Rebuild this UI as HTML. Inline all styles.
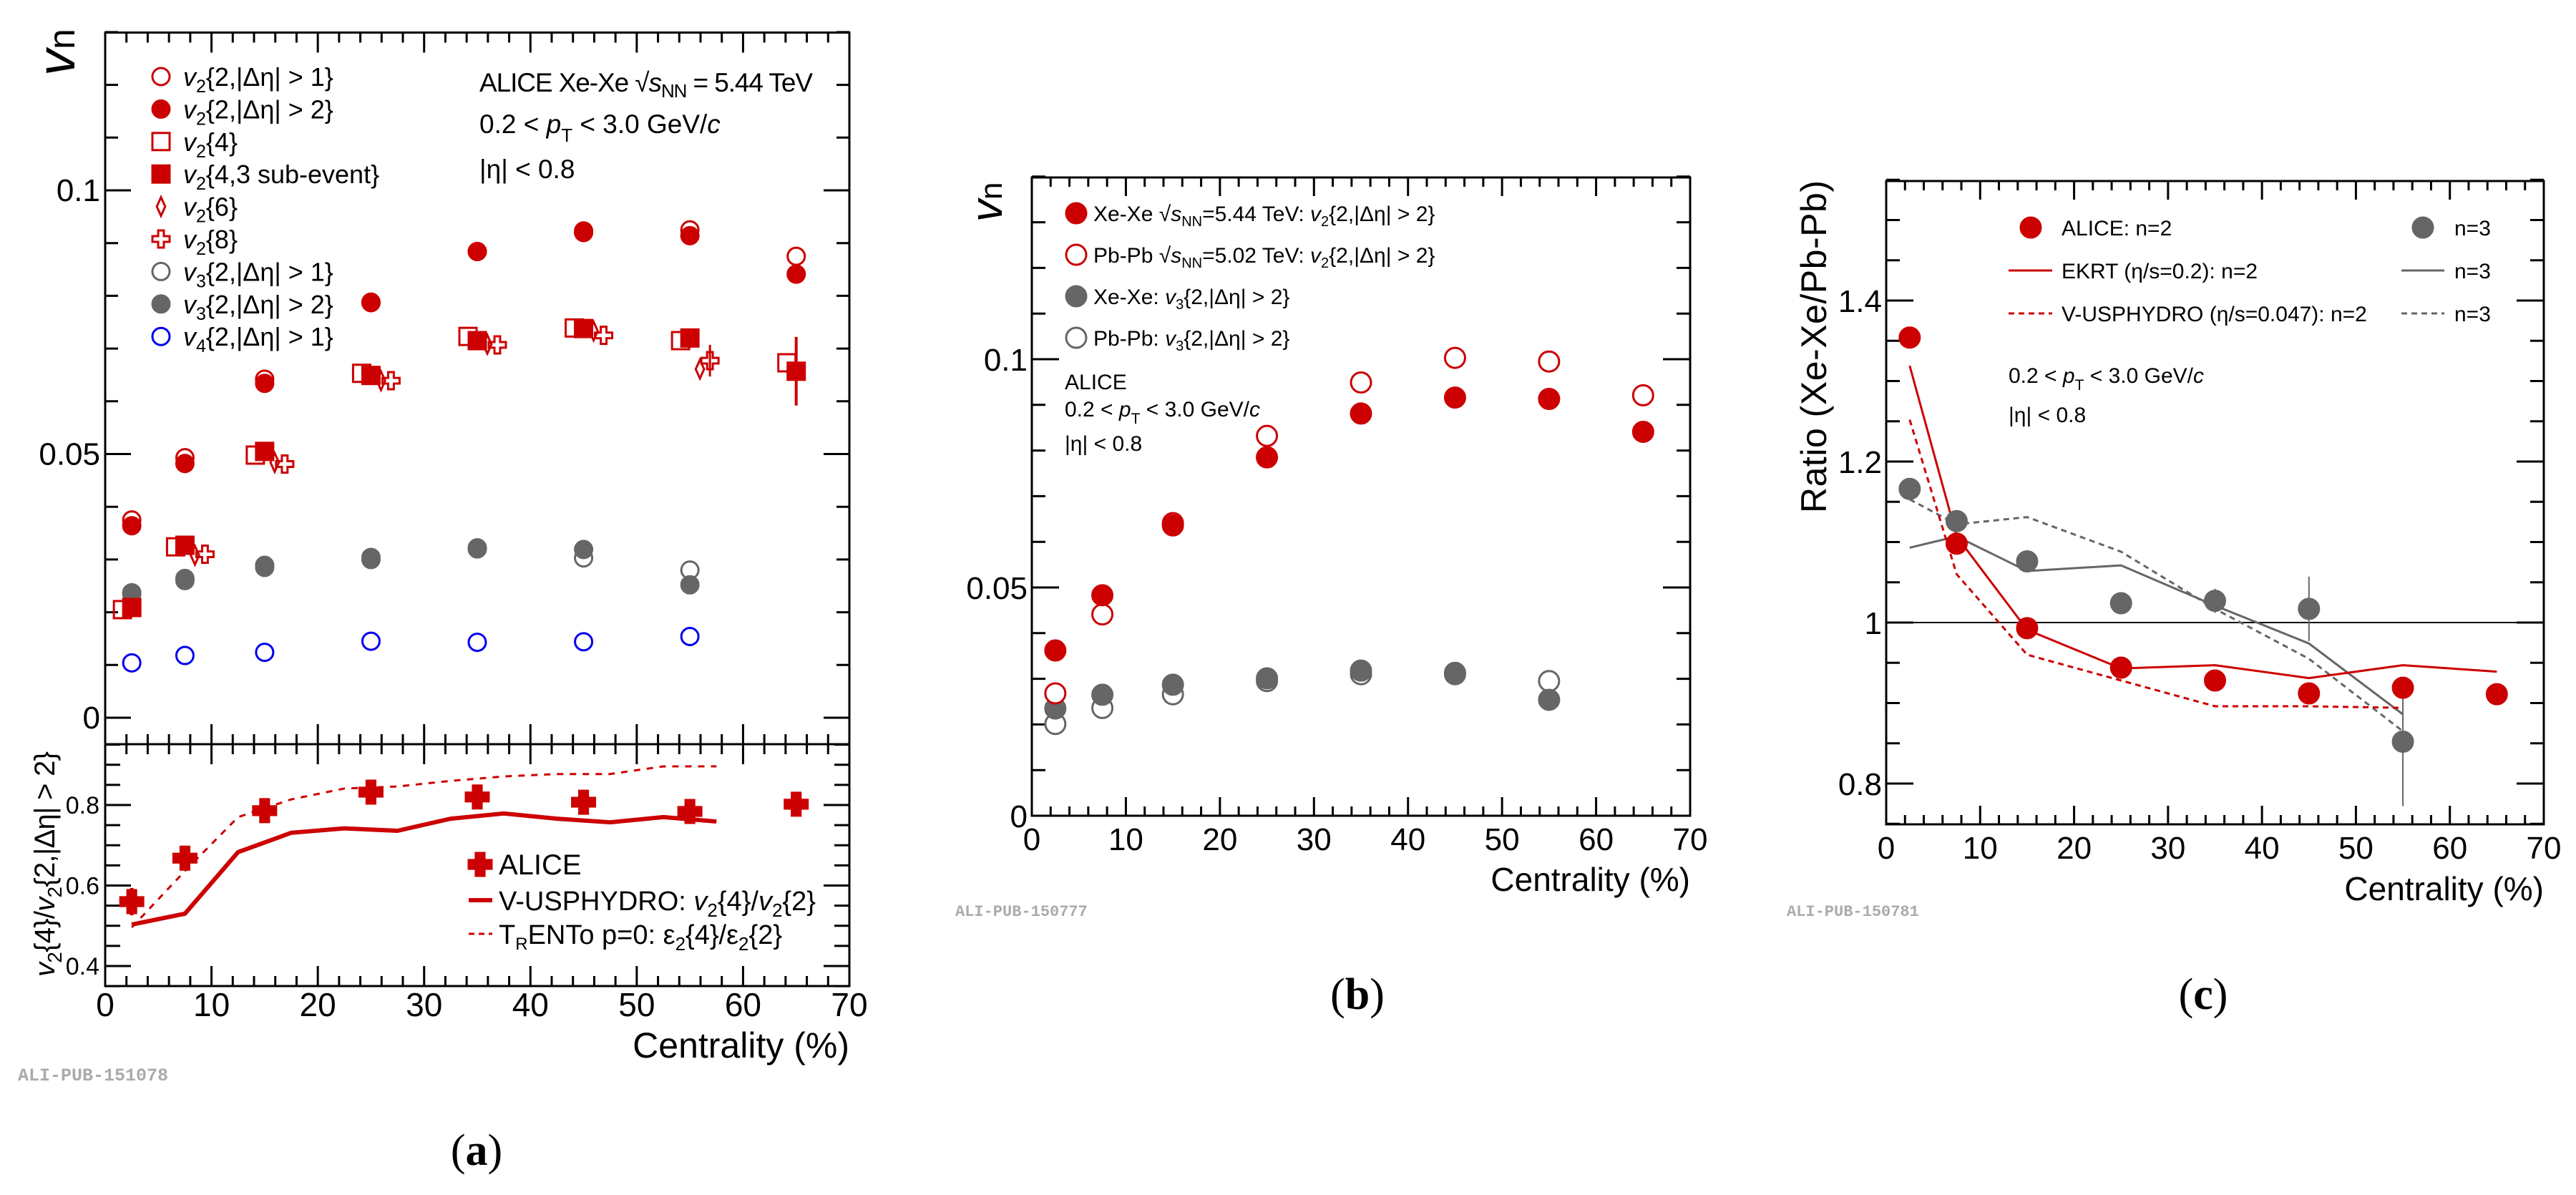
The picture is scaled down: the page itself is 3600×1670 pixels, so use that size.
<!DOCTYPE html>
<html><head><meta charset="utf-8"><style>
html,body{margin:0;padding:0;background:#fff;}
svg{display:block;font-family:"Liberation Sans",sans-serif;}
</style></head><body>
<svg id="fig" width="3600" height="1670" viewBox="0 0 3600 1670" xmlns="http://www.w3.org/2000/svg">
<rect x="0" y="0" width="3600" height="1670" fill="#fff"/>
<g id="pa"></g>
<g id="pb"></g>
<g id="pc"></g>

<!-- Panel a static text -->
<text x="0" y="0" transform="translate(104,106) rotate(-90)" font-size="74" font-style="italic">v<tspan font-size="52" font-style="normal" dy="0">n</tspan></text>
<text x="0" y="0" transform="translate(76,1365) rotate(-90)" font-size="40" textLength="315"><tspan font-style="italic">v</tspan><tspan font-size="28" dy="10">2</tspan><tspan dy="-10">{4}/</tspan><tspan font-style="italic">v</tspan><tspan font-size="28" dy="10">2</tspan><tspan dy="-10">{2,|Δη| &gt; 2}</tspan></text>
<text x="1187" y="1478" font-size="50" text-anchor="end">Centrality (%)</text>
<text x="25" y="1510" font-size="25" fill="#aaa" font-family="Liberation Mono, monospace" font-weight="bold">ALI-PUB-151078</text>
<text x="666" y="1628" font-size="62" text-anchor="middle" font-family="Liberation Serif, serif">(<tspan font-weight="bold">a</tspan>)</text>
<text x="670" y="128" font-size="37" textLength="466">ALICE Xe-Xe √<tspan font-style="italic">s</tspan><tspan font-size="26" dy="8">NN</tspan><tspan dy="-8"> = 5.44 TeV</tspan></text>
<text x="670" y="186" font-size="37">0.2 &lt; <tspan font-style="italic">p</tspan><tspan font-size="26" dy="12">T</tspan><tspan dy="-12"> &lt; 3.0 GeV/</tspan><tspan font-style="italic">c</tspan></text>
<text x="670" y="249" font-size="37">|η| &lt; 0.8</text>

<!-- Panel b static text -->
<text x="0" y="0" transform="translate(1400,310) rotate(-90)" font-size="62" font-style="italic">v<tspan font-size="44" font-style="normal">n</tspan></text>
<text x="2362" y="1245" font-size="46" text-anchor="end">Centrality (%)</text>
<text x="1335" y="1280" font-size="22" fill="#aaa" font-family="Liberation Mono, monospace" font-weight="bold">ALI-PUB-150777</text>
<text x="1897" y="1410" font-size="62" text-anchor="middle" font-family="Liberation Serif, serif">(<tspan font-weight="bold">b</tspan>)</text>
<text x="1488" y="544" font-size="30">ALICE</text>
<text x="1488" y="582" font-size="30">0.2 &lt; <tspan font-style="italic">p</tspan><tspan font-size="21" dy="10">T</tspan><tspan dy="-10"> &lt; 3.0 GeV/</tspan><tspan font-style="italic">c</tspan></text>
<text x="1488" y="630" font-size="30">|η| &lt; 0.8</text>

<!-- Panel c static text -->
<text x="0" y="0" transform="translate(2552,717) rotate(-90)" font-size="50" textLength="465">Ratio (Xe-Xe/Pb-Pb)</text>
<text x="3555" y="1258" font-size="46" text-anchor="end">Centrality (%)</text>
<text x="2497" y="1280" font-size="22" fill="#aaa" font-family="Liberation Mono, monospace" font-weight="bold">ALI-PUB-150781</text>
<text x="3079" y="1410" font-size="62" text-anchor="middle" font-family="Liberation Serif, serif">(<tspan font-weight="bold">c</tspan>)</text>
<text x="2807" y="535" font-size="30">0.2 &lt; <tspan font-style="italic">p</tspan><tspan font-size="21" dy="10">T</tspan><tspan dy="-10"> &lt; 3.0 GeV/</tspan><tspan font-style="italic">c</tspan></text>
<text x="2807" y="590" font-size="30">|η| &lt; 0.8</text>
</svg>
<script>
// ---------- data ----------
const centA = [2.5, 7.5, 15, 25, 35, 45, 55, 65];
const v2Gap1 = [0.0375, 0.0493, 0.0642, 0.0788, 0.0884, 0.0923, 0.0925, 0.0875];
const v2Gap2 = [0.0364, 0.0482, 0.0634, 0.0787, 0.0884, 0.0920, 0.0914, 0.0841];
const v2C4 = [0.0205, 0.0324, 0.0498, 0.0653, 0.0723, 0.0739, 0.0715, 0.0673];
const v2C4Sub = [0.0209, 0.0327, 0.0505, 0.0649, 0.0715, 0.0738, 0.0720, 0.0657];
const v2C4SubErr = [0, 0, 0, 0, 0, 0, 0, 0.0065];
const centA6 = [7.5, 15, 25, 35, 45, 55];
const v2C6 = [0.0308, 0.0484, 0.0639, 0.0708, 0.0733, 0.0661];
const v2C8 = [0.0310, 0.0481, 0.0639, 0.0707, 0.0725, 0.0677];
const v2C8Err = [0, 0, 0, 0, 0, 0.003];
const centA3 = [2.5, 7.5, 15, 25, 35, 45, 55];
const v3Gap1 = [0.0235, 0.0260, 0.0285, 0.0300, 0.0320, 0.0303, 0.0280];
const v3Gap2 = [0.0237, 0.0264, 0.0289, 0.0304, 0.0322, 0.0319, 0.0252];
const v4Gap1 = [0.0104, 0.0118, 0.0124, 0.0145, 0.0143, 0.0144, 0.0154];
const v4Err = [0, 0, 0, 0, 0, 0.0015, 0.0018];
const ratioAlice = [0.56, 0.668, 0.786, 0.832, 0.820, 0.807, 0.784, 0.802];
const ratioAliceErr = [0.017, 0.015, 0.015, 0.014, 0.015, 0.015, 0.015, 0.015];
const modelCent = [2.5, 7.5, 12.5, 17.5, 22.5, 27.5, 32.5, 37.5, 42.5, 47.5, 52.5, 57.5];
const vusphydroRatio = [0.503, 0.530, 0.683, 0.731, 0.742, 0.736, 0.766, 0.779, 0.766, 0.757, 0.770, 0.759];
const trentoRatio = [0.496, 0.636, 0.770, 0.814, 0.841, 0.846, 0.860, 0.871, 0.877, 0.877, 0.896, 0.896];

const centB = [2.5, 7.5, 15, 25, 35, 45, 55, 65];
const xeV2 = [0.0362, 0.0483, 0.0636, 0.0785, 0.0881, 0.0916, 0.0913, 0.0841];
const pbV2 = [0.0268, 0.0441, 0.0641, 0.0832, 0.0949, 0.1003, 0.0995, 0.0921];
const centB3 = [2.5, 7.5, 15, 25, 35, 45, 55];
const xeV3 = [0.0235, 0.0265, 0.0287, 0.0301, 0.0318, 0.0313, 0.0254];
const pbV3 = [0.0201, 0.0236, 0.0266, 0.0295, 0.0310, 0.0310, 0.0295];

const centC = [2.5, 7.5, 15, 25, 35, 45, 55, 65];
const ratioN2 = [1.354, 1.098, 0.993, 0.944, 0.928, 0.912, 0.919, 0.911];
const centC3 = [2.5, 7.5, 15, 25, 35, 45, 55];
const ratioN3 = [1.166, 1.126, 1.076, 1.024, 1.027, 1.017, 0.852];
const ratioN3Err = [0.01, 0.01, 0.01, 0.008, 0.015, 0.04, 0.08];
const ekrtN2 = [1.319, 1.107, 0.991, 0.943, 0.947, 0.931, 0.947, 0.939];
const vuspN2 = [1.252, 1.060, 0.960, 0.928, 0.896, 0.896, 0.894];
const ekrtN3 = [1.093, 1.107, 1.064, 1.071, 1.021, 0.974, 0.886];
const vuspN3 = [1.153, 1.122, 1.131, 1.088, 1.017, 0.955, 0.865];

const ticksX = [0, 10, 20, 30, 40, 50, 60, 70];
const ticksAUp = [0, 0.05, 0.1];
const ticksAUpLabels = ['0', '0.05', '0.1'];
const ticksALow = [0.4, 0.6, 0.8];
const ticksALowLabels = ['0.4', '0.6', '0.8'];
const ticksB = [0, 0.05, 0.1];
const ticksBLabels = ['0', '0.05', '0.1'];
const ticksC = [0.8, 1.0, 1.2, 1.4];
const ticksCLabels = ['0.8', '1', '1.2', '1.4'];

// ---------- helpers ----------
const NS = 'http://www.w3.org/2000/svg';
const RED = '#cc0000', GRAY = '#666666', BLUE = '#0000ee';
function mk(tag, parent) { const e = document.createElementNS(NS, tag); parent.appendChild(e); return e; }
function set(e, o) { for (const k in o) e.setAttribute(k, o[k]); return e; }

const xA = v => 147 + v * (1040 / 70);
const yA = v => 1003 - v * 7370;
const yAL = v => 1125 - (v - 0.8) * 562.5;
const xB = v => 1442 + v * (920 / 70);
const yB = v => 1140 - v * 6380;
const xC = v => 2636 + v * (919 / 70);
const yC = v => 870 - (v - 1) * 1125;

function marker(g, shape, cx, cy, s, color, name) {
  let e;
  if (shape === 'circle' || shape === 'ocircle') {
    e = mk('ellipse', g);
    set(e, { cx: cx, cy: cy, rx: s, ry: s, fill: shape === 'circle' ? color : '#fff', stroke: color, 'stroke-width': 3 });
  } else if (shape === 'square' || shape === 'osquare') {
    e = mk('rect', g);
    set(e, { x: cx - s, y: cy - s, width: 2 * s, height: 2 * s, fill: shape === 'square' ? color : 'none', stroke: color, 'stroke-width': 3 });
  } else if (shape === 'diamond') {
    e = mk('polygon', g);
    set(e, { points: `${cx},${cy - s} ${cx + s * 0.45},${cy} ${cx},${cy + s} ${cx - s * 0.45},${cy}`, fill: 'none', stroke: color, 'stroke-width': 3 });
  } else {
    const a = s, t = shape === 'cross' ? s * 0.38 : s * 0.33;
    e = mk('polygon', g);
    const p = [[-t, -a], [t, -a], [t, -t], [a, -t], [a, t], [t, t], [t, a], [-t, a], [-t, t], [-a, t], [-a, -t], [-t, -t]];
    set(e, { points: p.map(q => (cx + q[0]) + ',' + (cy + q[1])).join(' '), fill: shape === 'cross' ? color : 'none', stroke: color, 'stroke-width': 3 });
  }
  
  
  return e;
}
function errbar(g, x, y1, y2, color, w, name) {
  const l = mk('line', g);
  set(l, { x1: x, x2: x, y1: y1, y2: y2, stroke: color, 'stroke-width': w });
  
  
}
function seriesLine(g, xs, ys, fx, fy, color, w, dash, name) {
  const p = mk('polyline', g);
  set(p, { points: xs.map((x, i) => fx(x) + ',' + fy(ys[i])).join(' '), fill: 'none', stroke: color, 'stroke-width': w, 'stroke-linejoin': 'round' });
  if (dash) p.setAttribute('stroke-dasharray', dash);
  
  
}
function frame(g, x0, y0, x1, y1, name) {
  const r = mk('rect', g);
  set(r, { x: x0, y: y0, width: x1 - x0, height: y1 - y0, fill: 'none', stroke: '#000', 'stroke-width': 3 });
  
  
}
function tick(g, x1, y1, x2, y2, name) {
  const l = mk('line', g);
  set(l, { x1: x1, y1: y1, x2: x2, y2: y2, stroke: '#000', 'stroke-width': 3 });
  
  
}
function label(g, x, y, txt, size, anchor, name) {
  const t = mk('text', g);
  set(t, { x: x, y: y, 'font-size': size, 'text-anchor': anchor });
  t.textContent = txt;
  
  
  return t;
}
function xTicks(g, fx, yTop, yBot, majL, minL, top, bottom, name) {
  for (let v = 0; v <= 70; v += 2) {
    const L = v % 10 === 0 ? majL : minL;
    if (bottom) tick(g, fx(v), yBot, fx(v), yBot - L, name);
    if (top) tick(g, fx(v), yTop, fx(v), yTop + L, name);
  }
}
function yTicks(g, fy, vmin, vmax, step, majors, x0, x1, majL, minL, name) {
  const n = Math.round((vmax - vmin) / step);
  for (let i = 0; i <= n; i++) {
    const v = vmin + i * step;
    const isMaj = majors.some(m => Math.abs(m - v) < step / 10);
    const L = isMaj ? majL : minL;
    tick(g, x0, fy(v), x0 + L, fy(v), name);
    tick(g, x1, fy(v), x1 - L, fy(v), name);
  }
}

// ---------- Panel A ----------
const ga = document.getElementById('pa');
frame(ga, 147, 45.5, 1187, 1040, 'panel-a-upper-frame');
frame(ga, 147, 1040, 1187, 1378, 'panel-a-lower-frame');
xTicks(ga, xA, 45.5, 1040, 28, 14, true, true, 'panel-a-upper-x-tick');
xTicks(ga, xA, 1040, 1378, 28, 14, true, true, 'panel-a-lower-x-tick');
yTicks(ga, yA, 0, 0.13, 0.01, ticksAUp, 147, 1187, 36, 18, 'panel-a-upper-y-tick');
yTicks(ga, yAL, 0.35, 0.95, 0.05, ticksALow, 147, 1187, 36, 21, 'panel-a-lower-y-tick');
ticksAUp.forEach((v, i) => label(ga, 140, yA(v) + 15, ticksAUpLabels[i], 44, 'end', 'panel-a-upper-y-tick-label'));
ticksALow.forEach((v, i) => label(ga, 139, yAL(v) + 12, ticksALowLabels[i], 34, 'end', 'panel-a-lower-y-tick-label'));
ticksX.forEach(v => label(ga, xA(v), 1420, String(v), 46, 'middle', 'panel-a-x-tick-label'));

centA3.forEach((c, i) => marker(ga, 'ocircle', xA(c), yA(v3Gap1[i]), 12, GRAY, 'point-v3-gap1'));
centA3.forEach((c, i) => marker(ga, 'circle', xA(c), yA(v3Gap2[i]), 12, GRAY, 'point-v3-gap2'));
centA3.forEach((c, i) => { if (v4Err[i]) errbar(ga, xA(c), yA(v4Gap1[i] - v4Err[i]), yA(v4Gap1[i] + v4Err[i]), BLUE, 3, 'errorbar-v4'); });
centA3.forEach((c, i) => marker(ga, 'ocircle', xA(c), yA(v4Gap1[i]), 12, BLUE, 'point-v4-gap1'));
centA.forEach((c, i) => marker(ga, 'osquare', xA(c) - 13, yA(v2C4[i]), 12, RED, 'point-v2-c4'));
centA.forEach((c, i) => { if (v2C4SubErr[i]) errbar(ga, xA(c), yA(v2C4Sub[i] - v2C4SubErr[i]), yA(v2C4Sub[i] + v2C4SubErr[i]), RED, 4, 'errorbar-v2-c4-sub'); });
centA.forEach((c, i) => marker(ga, 'square', xA(c), yA(v2C4Sub[i]), 12, RED, 'point-v2-c4-subevent'));
centA6.forEach((c, i) => marker(ga, 'diamond', xA(c) + 14, yA(v2C6[i]), 13, RED, 'point-v2-c6'));
centA6.forEach((c, i) => { if (v2C8Err[i]) errbar(ga, xA(c) + 28, yA(v2C8[i] - v2C8Err[i]), yA(v2C8[i] + v2C8Err[i]), RED, 3, 'errorbar-v2-c8'); });
centA6.forEach((c, i) => marker(ga, 'ocross', xA(c) + 28, yA(v2C8[i]), 12, RED, 'point-v2-c8'));
centA.forEach((c, i) => marker(ga, 'ocircle', xA(c), yA(v2Gap1[i]), 12, RED, 'point-v2-gap1'));
centA.forEach((c, i) => marker(ga, 'circle', xA(c), yA(v2Gap2[i]), 12, RED, 'point-v2-gap2'));

seriesLine(ga, modelCent, vusphydroRatio, xA, yAL, RED, 6, null, 'line-vusphydro-ratio');
seriesLine(ga, modelCent, trentoRatio, xA, yAL, RED, 3, '9 9', 'line-trento-ratio');
centA.forEach((c, i) => errbar(ga, xA(c), yAL(ratioAlice[i] - ratioAliceErr[i] * 2), yAL(ratioAlice[i] + ratioAliceErr[i] * 2), RED, 5, 'errorbar-ratio-alice'));
centA.forEach((c, i) => marker(ga, 'cross', xA(c), yAL(ratioAlice[i]), 16, RED, 'point-ratio-alice'));

const legA = [
  ['ocircle', RED, 'v', '2', '{2,|Δη| > 1}'],
  ['circle', RED, 'v', '2', '{2,|Δη| > 2}'],
  ['osquare', RED, 'v', '2', '{4}'],
  ['square', RED, 'v', '2', '{4,3 sub-event}'],
  ['diamond', RED, 'v', '2', '{6}'],
  ['ocross', RED, 'v', '2', '{8}'],
  ['ocircle', GRAY, 'v', '3', '{2,|Δη| > 1}'],
  ['circle', GRAY, 'v', '3', '{2,|Δη| > 2}'],
  ['ocircle', BLUE, 'v', '4', '{2,|Δη| > 1}']
];
legA.forEach((L, i) => {
  const y = 107 + i * 45.4;
  marker(ga, L[0], 225, y, L[0] === 'diamond' ? 13 : 12, L[1], 'legend-marker');
  const t = mk('text', ga);
  set(t, { x: 256, y: y + 13, 'font-size': 36 });
  t.innerHTML = '<tspan font-style="italic">v</tspan><tspan font-size="25" dy="9">' + L[3] + '</tspan><tspan dy="-9">' + L[4] + '</tspan>';
  
  
});
marker(ga, 'cross', 671, 1208, 16, RED, 'legend-marker-alice');
label(ga, 697, 1222, 'ALICE', 40, 'start', 'legend-label-alice');
const lv = mk('line', ga); set(lv, { x1: 655, x2: 688, y1: 1258, y2: 1258, stroke: RED, 'stroke-width': 6 });


const tv = mk('text', ga); set(tv, { x: 697, y: 1272, 'font-size': 38 });
tv.innerHTML = 'V-USPHYDRO: <tspan font-style="italic">v</tspan><tspan font-size="26" dy="9">2</tspan><tspan dy="-9">{4}/</tspan><tspan font-style="italic">v</tspan><tspan font-size="26" dy="9">2</tspan><tspan dy="-9">{2}</tspan>';


const lt = mk('line', ga); set(lt, { x1: 655, x2: 688, y1: 1305, y2: 1305, stroke: RED, 'stroke-width': 3, 'stroke-dasharray': '8 6' });


const tt = mk('text', ga); set(tt, { x: 697, y: 1319, 'font-size': 38 });
tt.innerHTML = 'T<tspan font-size="24" dy="8">R</tspan><tspan dy="-8">ENTo p=0: ε</tspan><tspan font-size="26" dy="9">2</tspan><tspan dy="-9">{4}/ε</tspan><tspan font-size="26" dy="9">2</tspan><tspan dy="-9">{2}</tspan>';



// ---------- Panel B ----------
const gb = document.getElementById('pb');
frame(gb, 1442, 248, 2362, 1140, 'panel-b-frame');
xTicks(gb, xB, 248, 1140, 26, 13, true, true, 'panel-b-x-tick');
yTicks(gb, yB, 0, 0.14, 0.01, ticksB, 1442, 2362, 38, 19, 'panel-b-y-tick');
ticksB.forEach((v, i) => label(gb, 1436, yB(v) + 16, ticksBLabels[i], 44, 'end', 'panel-b-y-tick-label'));
ticksX.forEach(v => label(gb, xB(v), 1188, String(v), 44, 'middle', 'panel-b-x-tick-label'));
centB3.forEach((c, i) => marker(gb, 'ocircle', xB(c), yB(pbV3[i]), 14, GRAY, 'point-pbpb-v3'));
centB3.forEach((c, i) => marker(gb, 'circle', xB(c), yB(xeV3[i]), 14, GRAY, 'point-xexe-v3'));
centB.forEach((c, i) => marker(gb, 'ocircle', xB(c), yB(pbV2[i]), 14, RED, 'point-pbpb-v2'));
centB.forEach((c, i) => marker(gb, 'circle', xB(c), yB(xeV2[i]), 14, RED, 'point-xexe-v2'));
const legB = [
  ['circle', RED, 'Xe-Xe √<tspan font-style="italic">s</tspan><tspan font-size="20" dy="7">NN</tspan><tspan dy="-7">=5.44 TeV: </tspan><tspan font-style="italic">v</tspan><tspan font-size="20" dy="7">2</tspan><tspan dy="-7">{2,|Δη| &gt; 2}</tspan>'],
  ['ocircle', RED, 'Pb-Pb √<tspan font-style="italic">s</tspan><tspan font-size="20" dy="7">NN</tspan><tspan dy="-7">=5.02 TeV: </tspan><tspan font-style="italic">v</tspan><tspan font-size="20" dy="7">2</tspan><tspan dy="-7">{2,|Δη| &gt; 2}</tspan>'],
  ['circle', GRAY, 'Xe-Xe: <tspan font-style="italic">v</tspan><tspan font-size="20" dy="7">3</tspan><tspan dy="-7">{2,|Δη| &gt; 2}</tspan>'],
  ['ocircle', GRAY, 'Pb-Pb: <tspan font-style="italic">v</tspan><tspan font-size="20" dy="7">3</tspan><tspan dy="-7">{2,|Δη| &gt; 2}</tspan>']
];
legB.forEach((L, i) => {
  const y = 298 + i * 58;
  marker(gb, L[0], 1504, y, 14, L[1], 'legend-marker');
  const t = mk('text', gb);
  set(t, { x: 1528, y: y + 11, 'font-size': 30 });
  t.innerHTML = L[2];
  
  
});

// ---------- Panel C ----------
const gc = document.getElementById('pc');
frame(gc, 2636, 253, 3555, 1152, 'panel-c-frame');
xTicks(gc, xC, 253, 1152, 26, 13, true, true, 'panel-c-x-tick');
yTicks(gc, yC, 0.75, 1.55, 0.05, ticksC, 2636, 3555, 38, 19, 'panel-c-y-tick');
ticksC.forEach((v, i) => label(gc, 2630, yC(v) + 16, ticksCLabels[i], 44, 'end', 'panel-c-y-tick-label'));
ticksX.forEach(v => label(gc, xC(v), 1200, String(v), 44, 'middle', 'panel-c-x-tick-label'));
const unity = mk('line', gc); set(unity, { x1: 2636, x2: 3555, y1: yC(1), y2: yC(1), stroke: '#000', 'stroke-width': 2 });


seriesLine(gc, centC3, ekrtN3, xC, yC, GRAY, 3, null, 'line-ekrt-n3');
seriesLine(gc, centC3, vuspN3, xC, yC, GRAY, 3, '8 6', 'line-vusphydro-n3');
seriesLine(gc, centC, ekrtN2, xC, yC, RED, 3, null, 'line-ekrt-n2');
seriesLine(gc, centC3, vuspN2, xC, yC, RED, 3, '8 6', 'line-vusphydro-n2');
centC3.forEach((c, i) => errbar(gc, xC(c), yC(ratioN3[i] - ratioN3Err[i]), yC(ratioN3[i] + ratioN3Err[i]), GRAY, 2, 'errorbar-ratio-n3'));
centC3.forEach((c, i) => marker(gc, 'circle', xC(c), yC(ratioN3[i]), 14, GRAY, 'point-ratio-n3'));
centC.forEach((c, i) => marker(gc, 'circle', xC(c), yC(ratioN2[i]), 14, RED, 'point-ratio-n2'));
marker(gc, 'circle', 2838, 318, 14, RED, 'legend-marker-alice-n2');
label(gc, 2881, 329, 'ALICE: n=2', 30, 'start', 'legend-label-alice-n2');
marker(gc, 'circle', 3386, 318, 14, GRAY, 'legend-marker-alice-n3');
label(gc, 3430, 329, 'n=3', 30, 'start', 'legend-label-alice-n3');
const lc = [
  [RED, null, 2807, 2868, 378, 'EKRT (η/s=0.2): n=2', 'ekrt-n2'],
  [RED, '8 6', 2807, 2868, 438, 'V-USPHYDRO (η/s=0.047): n=2', 'vusphydro-n2'],
  [GRAY, null, 3356, 3416, 378, 'n=3', 'ekrt-n3'],
  [GRAY, '8 6', 3356, 3416, 438, 'n=3', 'vusphydro-n3']
];
lc.forEach(L => {
  const l = mk('line', gc);
  set(l, { x1: L[2], x2: L[3], y1: L[4], y2: L[4], stroke: L[0], 'stroke-width': 3 });
  if (L[1]) l.setAttribute('stroke-dasharray', L[1]);
  
  
  label(gc, L[3] + (L[3] > 3000 ? 14 : 13), L[4] + 11, L[5], 30, 'start', 'legend-label');
});
</script>
</body></html>
